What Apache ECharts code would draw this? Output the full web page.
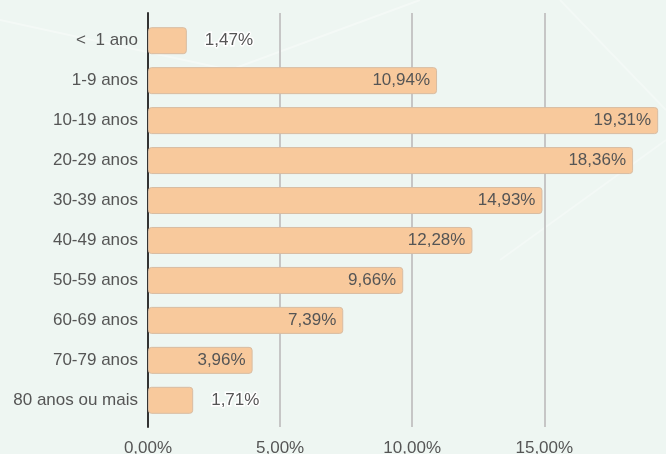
<!DOCTYPE html>
<html>
<head>
<meta charset="utf-8">
<script src="https://cdn.jsdelivr.net/npm/echarts@6/dist/echarts.min.js"></script>
<style>
html,body{margin:0;padding:0;background:#eef6f2;}
#c{width:666px;height:454px;}
</style>
</head>
<body>
<div id="c"></div>
<script>
var categories = ['<  1 ano','1-9 anos','10-19 anos','20-29 anos','30-39 anos','40-49 anos','50-59 anos','60-69 anos','70-79 anos','80 anos ou mais'];
var values = [1.47, 10.94, 19.31, 18.36, 14.93, 12.28, 9.66, 7.39, 3.96, 1.71];
var tickInterval = 5;
var axisMax = 20;

function fmt(v){ return v.toFixed(2).replace('.', ',') + '%'; }

var font = 'Liberation Sans, Arial, sans-serif';
var chart = echarts.init(document.getElementById('c'));
var data = values.map(function(v){
  var small = v < 3;
  return {
    value: v,
    label: small ? {
      position: 'right', distance: 18, color: '#555',
      textBorderColor: '#ffffff', textBorderWidth: 3
    } : {
      position: 'insideRight', distance: 7, color: '#555'
    }
  };
});
chart.setOption({
  backgroundColor: '#eef6f2',
  animation: false,
  graphic: [
    {type:'line', silent:true, z:-10, shape:{x1:0,y1:20,x2:230,y2:70}, style:{stroke:'rgba(255,255,255,0.35)', lineWidth:2}},
    {type:'line', silent:true, z:-10, shape:{x1:230,y1:70,x2:420,y2:0}, style:{stroke:'rgba(255,255,255,0.35)', lineWidth:2}},
    {type:'line', silent:true, z:-10, shape:{x1:560,y1:0,x2:666,y2:110}, style:{stroke:'rgba(255,255,255,0.3)', lineWidth:2}},
    {type:'line', silent:true, z:-10, shape:{x1:500,y1:260,x2:666,y2:140}, style:{stroke:'rgba(255,255,255,0.3)', lineWidth:2}}
  ],
  grid: [
    {left: 148, width: 528.4, top: 20.7, height: 399.6, containLabel: false, outerBoundsMode: 'none'},
    {left: 148, width: 528.4, top: 13, height: 414, containLabel: false, outerBoundsMode: 'none'}
  ],
  xAxis: [
    {gridIndex: 0, type: 'value', min: 0, max: axisMax, interval: tickInterval, show: false},
    {gridIndex: 1, type: 'value', min: 0, max: axisMax, interval: tickInterval,
     axisLine: {show: false}, axisTick: {show: false},
     splitLine: {show: true, lineStyle: {color: '#c6c6c6', width: 2}},
     axisLabel: {show: true, showMaxLabel: false, margin: 13, color: '#555', fontSize: 17, fontFamily: font, formatter: function(v){return fmt(v);}}}
  ],
  yAxis: [
    {gridIndex: 0, type: 'category', inverse: true, data: categories,
     axisLine: {show: false}, axisTick: {show: false},
     axisLabel: {margin: 10, color: '#555', fontSize: 17, fontFamily: font}},
    {gridIndex: 1, type: 'value', min: 0, max: 1, show: true,
     axisLine: {show: true, lineStyle: {color: '#333', width: 2}},
     axisTick: {show: false}, axisLabel: {show: false}, splitLine: {show: false}}
  ],
  series: [{
    type: 'bar', xAxisIndex: 0, yAxisIndex: 0,
    data: data, barWidth: 27, z: 3,
    itemStyle: {color: '#f8c99c', borderColor: '#d8bca2', borderWidth: 1, borderRadius: 3},
    label: {show: true, fontSize: 17, fontFamily: font, formatter: function(p){return fmt(p.value);}}
  }]
});
</script>
</body>
</html>
